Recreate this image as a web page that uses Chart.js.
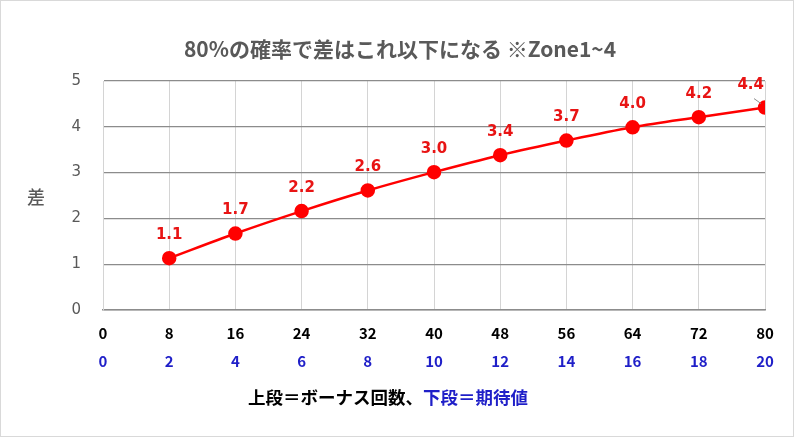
<!DOCTYPE html>
<html>
<head>
<meta charset="utf-8">
<script src="https://cdn.jsdelivr.net/npm/chart.js@4/dist/chart.umd.min.js"></script>
<style>
  body { margin: 0; background: #fff; }
  #wrap { width: 800px; height: 438px; }
</style>
</head>
<body>
<div id="wrap"><canvas id="myChart" width="800" height="438"></canvas></div>
<script>
var ctx = document.getElementById('myChart').getContext('2d');

// bonus counts (upper tick row) and the difference
var bonusCounts = [8, 16, 24, 32, 40, 48, 56, 64, 72, 80];
var diffValues = [1.13, 1.67, 2.16, 2.61, 3.01, 3.38, 3.70, 3.99, 4.21, 4.42];
var upperTicks = [0, 8, 16, 24, 32, 40, 48, 56, 64, 72, 80];
var lowerTicks = [0, 2, 4, 6, 8, 10, 12, 14, 16, 18, 20];
var yTicks = [0, 1, 2, 3, 4, 5];

var chartTitle = '80%の確率で差はこれ以下になる ※Zone1~4';
var yTitle = '差';
var xTitleBlack = '上段＝ボーナス回数、';
var xTitleBlue = '下段＝期待値';

var fontFam = '"DejaVu Sans", "Noto Sans CJK JP", sans-serif';
var jpFam = '"Noto Sans CJK JP", "DejaVu Sans", sans-serif';
var red = '#ff0000';
var blue = '#1f1fc8';
var gray = '#595959';

var points = bonusCounts.map(function (x, i) {
    return { x: x, y: diffValues[i] };
});

var extras = {
    id: 'extras',
    beforeDraw: function (chart) {
        var c = chart.ctx;
        c.save();
        c.fillStyle = '#fff';
        c.fillRect(0, 0, chart.width, chart.height);
        c.strokeStyle = '#d9d9d9';
        c.lineWidth = 1;
        c.strokeRect(0.5, 0.5, 793, 436);
        c.restore();
    },
    afterDatasetsDraw: function (chart) {
        var c = chart.ctx;
        var area = chart.chartArea;
        var meta = chart.getDatasetMeta(0);
        c.save();
        c.font = 'bold 15px ' + fontFam;
        c.textAlign = 'center';
        c.textBaseline = 'middle';
        meta.data.forEach(function (pt, i) {
            var txt = diffValues[i].toFixed(1);
            var w = c.measureText(txt).width;
            var lx = pt.x;
            var ly = pt.y - 23;
            if (lx + w / 2 > area.right) {
                lx = area.right - w / 2 - 1;
                ly = pt.y - 22;
                c.strokeStyle = '#8c8c8c';
                c.lineWidth = 1;
                c.beginPath();
                c.moveTo(pt.x - 11, pt.y - 9);
                c.lineTo(pt.x - 4, pt.y - 4);
                c.stroke();
            }
            c.fillStyle = '#e81414';
            c.fillText(txt, lx, ly);
        });
        c.restore();
    },
    afterDraw: function (chart) {
        var c = chart.ctx;
        c.save();
        c.textBaseline = 'middle';
        // title
        c.fillStyle = gray;
        c.textAlign = 'center';
        c.font = 'bold 21px ' + jpFam;
        c.fillText(chartTitle, 400, 49);
        // y title
        c.font = '500 18px ' + jpFam;
        c.fillText(yTitle, 36, 197);
        // x title in two colours
        c.font = 'bold 17.5px ' + jpFam;
        c.textAlign = 'left';
        var w1 = c.measureText(xTitleBlack).width;
        var w2 = c.measureText(xTitleBlue).width;
        var sx = 388 - (w1 + w2) / 2;
        c.fillStyle = '#000';
        c.fillText(xTitleBlack, sx, 397);
        c.fillStyle = blue;
        c.fillText(xTitleBlue, sx + w1, 397);
        c.restore();
    }
};

var myLineChart = new Chart(ctx, {
    type: 'line',
    data: {
        datasets: [{
            label: yTitle,
            data: points,
            borderColor: red,
            backgroundColor: red,
            borderWidth: 2.5,
            pointRadius: 6,
            pointHoverRadius: 6,
            pointBackgroundColor: red,
            pointBorderColor: red,
            cubicInterpolationMode: 'monotone',
            xAxisID: 'x',
            yAxisID: 'y'
        }]
    },
    options: {
        responsive: false,
        animation: false,
        events: [],
        layout: { padding: { left: 0, right: 35, top: 81, bottom: 0 } },
        plugins: {
            legend: { display: false },
            title: { display: false },
            tooltip: { enabled: false }
        },
        scales: {
            x: {
                type: 'linear',
                position: 'bottom',
                min: 0,
                max: 80,
                afterBuildTicks: function (scale) {
                    scale.ticks = upperTicks.map(function (v) { return { value: v }; });
                },
                afterFit: function (scale) { scale.height = 38; },
                grid: { color: '#d4d4d4', lineWidth: 1, drawTicks: false },
                border: { display: true, color: '#8c8c8c', width: 1.5 },
                ticks: {
                    padding: 14,
                    color: '#000',
                    font: { family: jpFam, size: 15, weight: 'bold' },
                    maxRotation: 0,
                    autoSkip: false
                }
            },
            x2: {
                type: 'linear',
                position: 'bottom',
                min: 0,
                max: 20,
                afterBuildTicks: function (scale) {
                    scale.ticks = lowerTicks.map(function (v) { return { value: v }; });
                },
                afterFit: function (scale) { scale.height = 90; },
                grid: { display: false, drawTicks: false },
                border: { display: false },
                ticks: {
                    padding: 4,
                    color: blue,
                    font: { family: jpFam, size: 15, weight: 'bold' },
                    maxRotation: 0,
                    autoSkip: false
                }
            },
            y: {
                min: 0,
                max: 5,
                afterBuildTicks: function (scale) {
                    scale.ticks = yTicks.map(function (v) { return { value: v }; });
                },
                afterFit: function (scale) { scale.width = 103; },
                grid: { color: '#8c8c8c', lineWidth: 1.2, drawTicks: false },
                border: { display: true, color: '#d4d4d4', width: 1 },
                ticks: {
                    padding: 22,
                    color: gray,
                    font: { family: fontFam, size: 15 }
                }
            }
        }
    },
    plugins: [extras]
});
</script>
</body>
</html>
